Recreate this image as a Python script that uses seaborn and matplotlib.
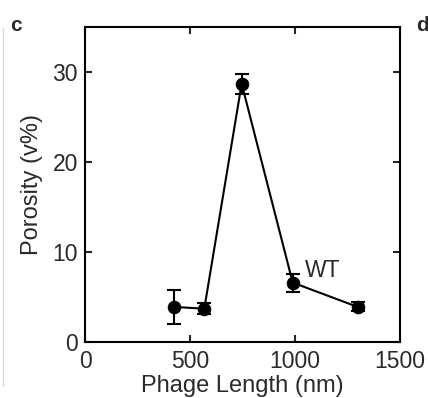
import numpy as np
import pandas as pd
import seaborn as sns
import matplotlib.pyplot as plt
from matplotlib.lines import Line2D

# values
phage_length = [424, 568, 746, 989, 1298]
porosity = [3.9, 3.7, 28.7, 6.6, 3.9]
porosity_err = [1.9, 0.6, 1.1, 1.0, 0.5]
x_ticks = [0, 500, 1000, 1500]
y_ticks = [0, 10, 20, 30]

df = pd.DataFrame({"length": phage_length, "porosity": porosity, "err": porosity_err})

sns.set_style("ticks")
plt.rcParams["font.family"] = ["Liberation Sans", "DejaVu Sans"]
text_color = "#2a2a2a"

fig = plt.figure(figsize=(4.28, 3.98), dpi=100)
ax = fig.add_axes([0.1986, 0.1407, 0.736, 0.7915])

sns.lineplot(data=df, x="length", y="porosity", ax=ax, color="black",
             linewidth=1.5, marker="o", markersize=9, markeredgecolor="black",
             zorder=3)
ax.errorbar(df["length"], df["porosity"], yerr=df["err"], fmt="none",
            ecolor="black", elinewidth=1.5, capsize=5, capthick=1.5, zorder=2)

ax.text(1133, 7.9, "WT", fontsize=16.5, color=text_color, ha="center", va="center")

ax.set_xlim(0, 1500)
ax.set_ylim(0, 35)
ax.set_xticks(x_ticks)
ax.set_yticks(y_ticks)
ax.tick_params(direction="in", length=5, width=1.5, top=True, right=True,
               labelsize=16.5, labelcolor=text_color)
ax.tick_params(axis="x", pad=6)
ax.tick_params(axis="y", pad=5)
for s in ax.spines.values():
    s.set_linewidth(1.5)
    s.set_color("black")

ax.set_xlabel("Phage Length (nm)", fontsize=17, color=text_color, labelpad=1)
ax.set_ylabel("Porosity (v%)", fontsize=17, color=text_color, labelpad=7)

# panel letters
fig.text(0.037, 0.935, "c", fontsize=15, fontweight="bold", color=text_color,
         va="center", ha="center")
fig.text(0.986, 0.937, "d", fontsize=15, fontweight="bold", color=text_color,
         va="center", ha="center")

# faint crop edge on the left
fig.add_artist(Line2D([0.006, 0.006], [0.03, 0.93], color="#d8d8d8", linewidth=1))

fig.savefig("out.png", dpi=100)
